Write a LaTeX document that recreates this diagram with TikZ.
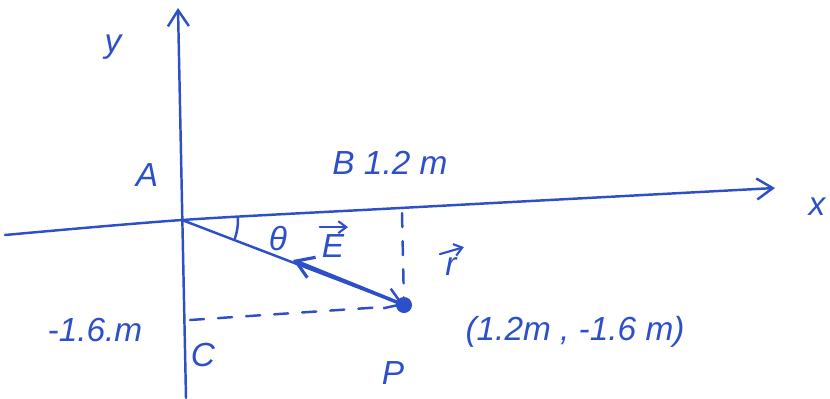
\documentclass[tikz,border=0pt]{standalone}
\usepackage{fontspec}
\setmainfont{Liberation Sans}
\usetikzlibrary{arrows.meta}
\definecolor{pen}{RGB}{45,80,200}
\tikzset{
  pencil/.style={draw=pen, line width=1.4pt, line cap=round, line join=round},
  dashline/.style={pencil, dash pattern=on 8pt off 8pt},
  lbl/.style={text=pen, font=\itshape\fontsize{19}{22}\selectfont, inner sep=0pt},
  barb/.style={-{Straight Barb[length=3.2mm,width=4.2mm,line width=1.4pt]}},
  hat/.style={draw=pen, line width=1.2pt, line cap=round, -{Straight Barb[length=1.6mm,width=2.4mm,line width=1.2pt]}}
}
\begin{document}
\begin{tikzpicture}
\useasboundingbox (0,0) rectangle (16.6,-7.96);
% key points
\coordinate (O) at (3.64,-4.40);
\coordinate (xL) at (0.10,-4.70);
\coordinate (xM) at (8.00,-4.16);
\coordinate (xR) at (15.50,-3.76);
\coordinate (yB) at (3.72,-7.96);
\coordinate (yT) at (3.56,-0.16);
\coordinate (P) at (8.08,-6.10);
\coordinate (Eh) at (5.86,-5.20);
\coordinate (Q) at (8.04,-4.26);
\coordinate (Dl) at (3.80,-6.40);
\coordinate (Dr) at (7.66,-6.14);
% axes
\draw[pencil, barb] plot[smooth] coordinates {(xL) (O) (xM) (xR)};
\draw[pencil, barb] (yB) -- (yT);
% position line O -> P
\draw[pencil, barb] (O) -- (P);
% field arrow from P back toward O
\draw[pencil, line width=2pt, -{Straight Barb[length=3.4mm,width=4.4mm,line width=1.8pt]}] (P) -- (Eh);
\fill[pen] (P) circle (0.16);
% dashed projections
\draw[dashline] (Q) -- (P);
\draw[dashline] (Dl) -- (Dr);
% angle
\draw[pencil] (O) ++(-19:1.12) arc[start angle=-19, end angle=2, radius=1.12];
% labels
\node[lbl] (ly) at (2.26,-0.94) {y};
\node[lbl] (lA) at (2.94,-3.50) {A};
\node[lbl] (lB) at (7.80,-3.26) {B 1.2 m};
\node[lbl] (lth) at (5.56,-4.78) {θ};
\node[lbl] (lE) at (6.66,-4.92) {E};
\draw[hat] ([xshift=-1pt,yshift=4pt]lE.north west) -- ([xshift=2pt,yshift=4pt]lE.north east);
\node[lbl] (lr) at (9.02,-5.34) {r};
\draw[hat] ([xshift=-3pt,yshift=2pt]lr.north west) -- ([xshift=4pt,yshift=6pt]lr.north east);
\node[lbl] (lx) at (16.34,-4.14) {x};
\node[lbl] (lm) at (1.90,-6.60) {-1.6.m};
\node[lbl] (lC) at (4.06,-7.10) {C};
\node[lbl] (lP) at (7.86,-7.46) {P};
\node[lbl] (lco) at (11.50,-6.64) {(1.2m , -1.6 m)};
\end{tikzpicture}
\end{document}
